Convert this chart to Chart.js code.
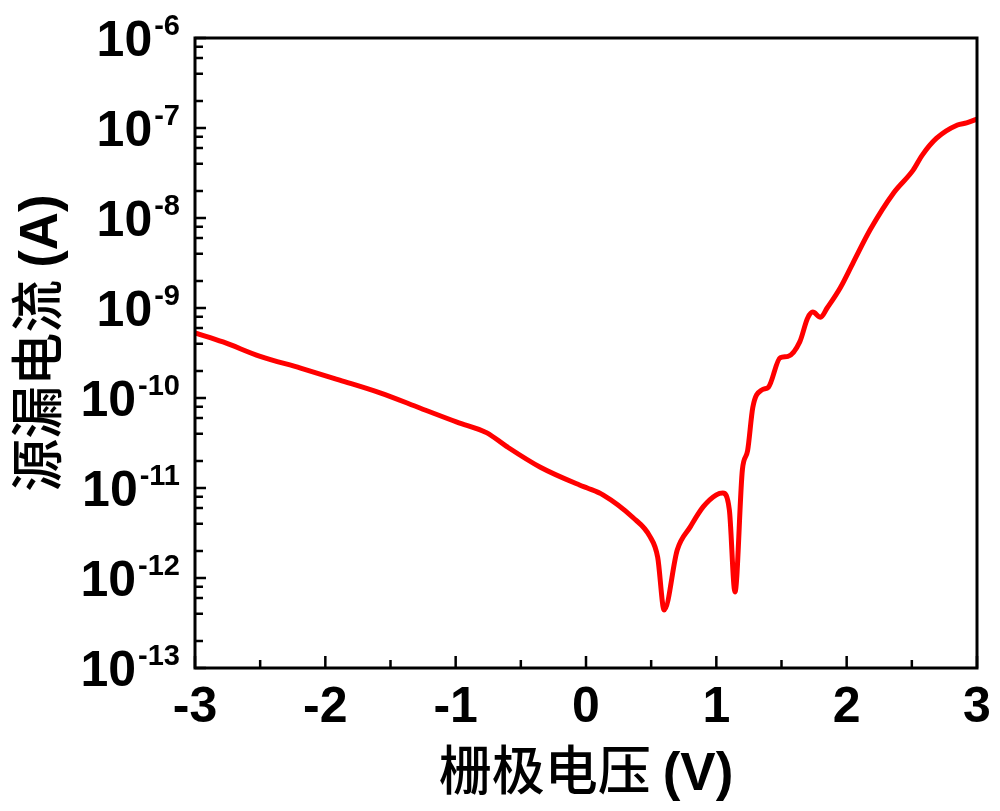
<!DOCTYPE html>
<html>
<head>
<meta charset="utf-8">
<script src="https://cdn.jsdelivr.net/npm/chart.js@4.4.0/dist/chart.umd.min.js"></script>
<style>
  html, body { margin: 0; padding: 0; background: #ffffff; }
  #wrap { width: 1000px; height: 811px; position: relative; }
</style>
</head>
<body>
<div id="wrap"><canvas id="c"></canvas></div>
<script>
// ---- data ----
const gateVoltage = [
  -3.00, -2.785, -2.50, -2.19, -1.89, -1.58, -1.27, -0.99, -0.76, -0.61,
  -0.35, -0.05, 0.01, 0.13, 0.36, 0.49, 0.55, 0.60, 0.70, 0.80,
  0.90, 1.00, 1.05, 1.10, 1.143, 1.20, 1.24, 1.28, 1.35, 1.40,
  1.49, 1.55, 1.64, 1.70, 1.74, 1.80, 1.85, 1.95, 2.05, 2.18,
  2.36, 2.51, 2.58, 2.69, 2.85, 2.92, 3.00
];
const drainCurrent = [
  5.3e-10, 4.2e-10, 2.9e-10, 2.15e-10, 1.58e-10, 1.14e-10, 7.7e-11, 5.4e-11, 4.1e-11, 2.9e-11,
  1.7e-11, 1.08e-11, 1.0e-11, 8.4e-12, 4.7e-12, 2.9e-12, 1.7e-12, 4.4e-13, 2.05e-12, 3.7e-12,
  6.2e-12, 8.4e-12, 8.8e-12, 5.7e-12, 7.0e-13, 1.6e-11, 2.6e-11, 7.9e-11, 1.23e-10, 1.32e-10,
  2.8e-10, 2.9e-10, 4.2e-10, 7.7e-10, 9.0e-10, 7.9e-10, 1.0e-9, 1.67e-9, 3.2e-9, 7.4e-9,
  1.9e-8, 3.4e-8, 5.0e-8, 7.7e-8, 1.08e-7, 1.14e-7, 1.26e-7
];
const xTickLabels = [-3, -2, -1, 0, 1, 2, 3];
const xMinorTicks = [-2.5, -1.5, -0.5, 0.5, 1.5, 2.5];
const yDecades = [-13, -12, -11, -10, -9, -8, -7, -6];
const yMinorMantissas = [2, 4, 6, 8];
const xTitle = '栅极电压 ';
const xTitleUnit = '(V)';
const yTitle = '源漏电流 ';
const yTitleUnit = '(A)';

const points = gateVoltage.map((v, i) => ({ x: v, y: drainCurrent[i] }));

const axesPlugin = {
  id: 'axesPlugin',
  afterDraw(chart) {
    const ctx = chart.ctx;
    const a = chart.chartArea;
    const xs = chart.scales.x;
    const ys = chart.scales.y;
    ctx.save();
    ctx.strokeStyle = '#000';
    ctx.fillStyle = '#000';
    ctx.lineWidth = 3;
    ctx.lineCap = 'butt';
    // frame
    ctx.strokeRect(a.left, a.top, a.right - a.left, a.bottom - a.top);
    // x ticks (inward)
    ctx.lineWidth = 2.5;
    ctx.beginPath();
    xTickLabels.forEach(v => {
      const px = xs.getPixelForValue(v);
      ctx.moveTo(px, a.bottom); ctx.lineTo(px, a.bottom - 12);
    });
    xMinorTicks.forEach(v => {
      const px = xs.getPixelForValue(v);
      ctx.moveTo(px, a.bottom); ctx.lineTo(px, a.bottom - 8);
    });
    // y ticks (inward)
    yDecades.forEach((d, i) => {
      const py = ys.getPixelForValue(Math.pow(10, d));
      ctx.moveTo(a.left, py); ctx.lineTo(a.left + 11, py);
      if (i < yDecades.length - 1) {
        yMinorMantissas.forEach(m => {
          const pm = ys.getPixelForValue(m * Math.pow(10, d));
          ctx.moveTo(a.left, pm); ctx.lineTo(a.left + 8, pm);
        });
      }
    });
    ctx.stroke();

    // x tick labels
    ctx.font = 'bold 50px "Liberation Sans", Arial, sans-serif';
    ctx.textAlign = 'center';
    ctx.textBaseline = 'alphabetic';
    xTickLabels.forEach(v => {
      const px = xs.getPixelForValue(v);
      const s = v < 0 ? '-' + Math.abs(v) : String(v);
      ctx.fillText(s, px, a.bottom + 54);
    });

    // y tick labels 10^n
    const rightEdge = a.left - 15;
    yDecades.forEach(d => {
      const py = ys.getPixelForValue(Math.pow(10, d));
      const sup = '-' + Math.abs(d);
      ctx.font = 'bold 29px "Liberation Sans", Arial, sans-serif';
      const wSup = ctx.measureText(sup).width;
      ctx.textAlign = 'left';
      ctx.fillText(sup, rightEdge - wSup, py - 3);
      ctx.font = 'bold 50px "Liberation Sans", Arial, sans-serif';
      ctx.textAlign = 'right';
      ctx.fillText('10', rightEdge - wSup - 2, py + 18);
    });

    // x title
    const cjk = '500 53px "Noto Sans CJK SC", sans-serif';
    const lat = 'bold 53px "Liberation Sans", Arial, sans-serif';
    ctx.textAlign = 'left';
    ctx.font = cjk; const w1 = ctx.measureText(xTitle).width;
    ctx.font = lat; const w2 = ctx.measureText(xTitleUnit).width;
    const cx = (a.left + a.right) / 2;
    let sx = cx - (w1 + w2) / 2;
    ctx.font = cjk; ctx.fillText(xTitle, sx, 790);
    ctx.font = lat; ctx.fillText(xTitleUnit, sx + w1, 790);

    // y title (rotated)
    ctx.font = cjk; const w3 = ctx.measureText(yTitle).width;
    ctx.font = lat; const w4 = ctx.measureText(yTitleUnit).width;
    ctx.translate(57, 343);
    ctx.rotate(-Math.PI / 2);
    sx = -(w3 + w4) / 2;
    ctx.font = cjk; ctx.fillText(yTitle, sx, 0);
    ctx.font = lat; ctx.fillText(yTitleUnit, sx + w3, 0);
    ctx.restore();
  }
};

new Chart(document.getElementById('c'), {
  type: 'scatter',
  data: {
    datasets: [{
      data: points,
      showLine: true,
      borderColor: '#ff0000',
      backgroundColor: '#ff0000',
      borderWidth: 5,
      pointRadius: 0,
      cubicInterpolationMode: 'monotone',
      borderJoinStyle: 'round',
      borderCapStyle: 'round'
    }]
  },
  options: {
    responsive: true,
    maintainAspectRatio: false,
    animation: false,
    layout: { padding: { top: 38, right: 23, left: 0, bottom: 0 } },
    plugins: { legend: { display: false }, tooltip: { enabled: false } },
    scales: {
      x: {
        type: 'linear', min: -3, max: 3,
        grid: { display: false }, border: { display: false },
        ticks: { display: false },
        afterFit(s) { s.height = 143; }
      },
      y: {
        type: 'logarithmic', min: 1e-13, max: 1e-6,
        grid: { display: false }, border: { display: false },
        ticks: { display: false },
        afterFit(s) { s.width = 195; }
      }
    }
  },
  plugins: [axesPlugin]
});
</script>
</body>
</html>
